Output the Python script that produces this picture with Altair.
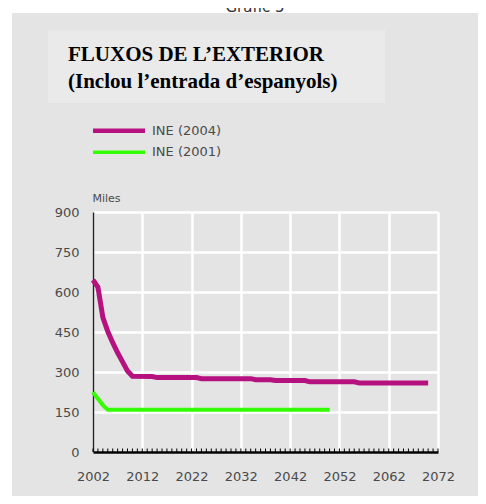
import altair as alt
import pandas as pd

# ---- data ----
years_2004 = [2002, 2003, 2004, 2005, 2006, 2007, 2008, 2009, 2010, 2014, 2015, 2023,
              2024, 2034, 2035, 2038, 2039, 2045, 2046, 2055, 2056, 2070]
values_2004 = [645, 618, 505, 452, 410, 372, 338, 304, 284, 283, 279, 279,
               275, 275, 271, 271, 268, 268, 263, 263, 259, 259]
years_2001 = [2002, 2003, 2004, 2005, 2050]
values_2001 = [224, 200, 176, 158, 158]

series_names = ["INE (2004)", "INE (2001)"]
series_colors = ["#b5127f", "#33ff00"]
series_widths = [5, 4]

x_ticks = list(range(2002, 2073, 10))
y_ticks = list(range(0, 901, 150))
minor_tick_years = list(range(2002, 2073))

sup_title = "Gràfic 5"
title_line1 = "FLUXOS DE L\u2019EXTERIOR"
title_line2 = "(Inclou l\u2019entrada d\u2019espanyols)"
y_unit = "Miles"

# ---- layout ----
W, H = 345, 240
TOTW, TOTH = 470, 488
PL, PT = 85, 204
PR, PB = TOTW - PL - W, TOTH - PT - H

PANEL = "#e4e4e4"
BOX = "#eaeaea"
TXT = "#4a4a4a"
SANS = "DejaVu Sans"

df = pd.concat([
    pd.DataFrame({"year": years_2004, "value": values_2004, "series": series_names[0]}),
    pd.DataFrame({"year": years_2001, "value": values_2001, "series": series_names[1]}),
])

dummy = pd.DataFrame({"k": [0]})

x_enc = alt.X("year:Q",
              scale=alt.Scale(domain=[2002, 2072], nice=False, zero=False),
              axis=alt.Axis(values=x_ticks, format="d", title=None, grid=True,
                            gridColor="white", gridWidth=2.5, ticks=False,
                            domainColor="black", domainWidth=2.5,
                            labelFont=SANS, labelFontSize=13, labelColor=TXT,
                            labelPadding=18, labelFlush=False))
y_enc = alt.Y("value:Q",
              scale=alt.Scale(domain=[0, 900], nice=False),
              axis=alt.Axis(values=y_ticks, grid=True, gridColor="white", gridWidth=2.5,
                            ticks=False, domainColor="#222222", domainWidth=1.5,
                            labelFont=SANS, labelFontSize=13, labelColor=TXT,
                            labelPadding=14, title=y_unit, titleAngle=0,
                            titleX=-1, titleY=-11, titleAlign="left",
                            titleBaseline="alphabetic", titleFont=SANS,
                            titleFontSize=11, titleFontWeight="normal",
                            titleColor=TXT))

lines = alt.Chart(df).mark_line(strokeCap="butt").encode(
    x=x_enc,
    y=y_enc,
    color=alt.Color("series:N", scale=alt.Scale(domain=series_names, range=series_colors), legend=None),
    strokeWidth=alt.StrokeWidth("series:N", scale=alt.Scale(domain=series_names, range=series_widths), legend=None),
    detail="series:N",
)

minor = alt.Chart(pd.DataFrame({"year": minor_tick_years})).mark_rule(
    color="black", strokeWidth=1).encode(
    x=alt.X("year:Q"),
    y=alt.value(H),
    y2=alt.value(H - 3.5),
)

def rect(x1, x2, y1, y2, color):
    return alt.Chart(dummy).mark_rect(color=color).encode(
        x=alt.value(x1), x2=alt.value(x2), y=alt.value(y1), y2=alt.value(y2))

white_left = rect(-PL, -PL + 4, -PT, H + PB, "white")
white_top = rect(-PL, W + PR, -PT, -PT + 5, "white")
title_box = rect(-45, 292, -182, -109, BOX)

sup = alt.Chart(dummy).mark_text(font=SANS, fontSize=15, color="#333333",
                                 align="center", baseline="alphabetic").encode(
    x=alt.value(162), y=alt.value(-200), text=alt.value(sup_title))

t1 = alt.Chart(dummy).mark_text(font="Liberation Serif", fontSize=21, fontWeight="bold",
                                color="black", align="left", baseline="alphabetic").encode(
    x=alt.value(-25), y=alt.value(-151.5), text=alt.value(title_line1))
t2 = alt.Chart(dummy).mark_text(font="Liberation Serif", fontSize=21, fontWeight="bold",
                                color="black", align="left", baseline="alphabetic").encode(
    x=alt.value(-25), y=alt.value(-124), text=alt.value(title_line2))

legend_layers = []
legend_y = [-81.3, -59.7]
for name, col, w, ly in zip(series_names, series_colors, series_widths, legend_y):
    ldf = pd.DataFrame({"series": [name]})
    legend_layers.append(alt.Chart(ldf).mark_rule(color=col, strokeWidth=w - 0.5).encode(
        x=alt.value(0), x2=alt.value(52), y=alt.value(ly)))
    legend_layers.append(alt.Chart(ldf).mark_text(font=SANS, fontSize=13, color=TXT,
                                                  align="left", baseline="middle").encode(
        x=alt.value(59), y=alt.value(ly), text="series:N"))

chart = alt.layer(
    white_left, white_top, title_box, sup, t1, t2, *legend_layers, lines, minor
).properties(
    width=W, height=H,
    autosize=alt.AutoSizeParams(type="none"),
    padding={"left": PL, "top": PT, "right": PR, "bottom": PB},
    background=PANEL,
).configure_view(stroke=None)

chart.save("out.html", embed_options={"renderer": "svg", "actions": False})
